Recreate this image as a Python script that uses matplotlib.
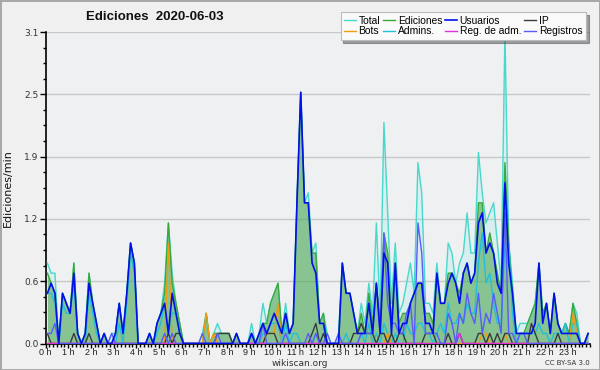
import numpy as np
import matplotlib
matplotlib.use("Agg")
import matplotlib.pyplot as plt
from matplotlib.ticker import FixedLocator, MultipleLocator, FuncFormatter

# values are counts per 10-minute bin (shown as edits/min = count / 10)
total = [8,7,7,0,5,4, 3,8,1,0,1,7, 4,2,0,1,0,1, 1,4,1,5,10,8, 0,0,0,1,0,2, 3,6,12,7,4,2,
         0,0,0,0,0,1, 3,0,1,2,1,1, 1,0,1,0,0,0, 2,0,1,4,2,4, 5,6,1,4,1,2, 14,25,14,15,9,10,
         2,3,1,0,0,1, 8,5,5,3,1,4, 2,6,3,12,3,22, 13,4,10,3,4,6, 8,5,18,15,4,4, 3,8,4,4,10,9,
         6,8,9,13,9,9, 19,15,12,13,14,10, 6,31,10,6,1,2, 2,2,3,4,8,3, 4,1,5,2,1,2, 1,4,3,0,0,1]
ediciones = [7,6,5,0,5,4, 3,8,1,0,1,7, 4,2,0,1,0,0, 1,4,1,5,10,8, 0,0,0,1,0,2, 3,5,12,6,4,2,
             0,0,0,0,0,0, 3,0,1,1,1,1, 1,0,1,0,0,0, 1,0,1,2,2,4, 5,6,1,3,1,2, 14,25,14,14,9,9,
             2,3,0,0,0,0, 8,5,5,3,1,3, 1,5,2,6,2,11, 9,2,8,2,3,3, 4,5,6,6,3,3, 2,7,4,4,7,7,
             6,5,7,8,6,7, 14,14,9,11,9,7, 5,18,10,5,1,1, 1,2,3,4,8,3, 4,1,5,2,1,2, 1,4,2,0,0,1]
usuarios = [5,6,5,0,5,4, 3,7,1,0,1,6, 4,2,0,1,0,0, 1,4,1,5,10,8, 0,0,0,1,0,2, 3,4,1,5,3,1,
            0,0,0,0,0,0, 0,0,0,0,0,0, 0,0,1,0,0,0, 1,0,1,2,1,2, 3,2,1,3,1,2, 14,25,14,14,8,7,
            2,2,0,0,0,0, 8,5,5,3,1,1, 1,4,1,6,1,9, 8,1,8,1,2,2, 4,5,6,6,2,2, 1,7,4,4,6,7,
            6,4,7,8,6,7, 12,13,9,10,9,6, 5,16,8,5,1,1, 1,1,1,2,8,2, 4,1,5,2,1,1, 1,1,1,0,0,1]
ip = [1,0,0,0,0,0, 0,1,0,0,0,1, 0,0,0,0,0,0, 0,0,0,0,0,0, 0,0,0,0,0,0, 0,0,1,0,1,1,
      0,0,0,0,0,0, 0,0,0,1,1,1, 1,0,0,0,0,0, 0,0,0,0,1,1, 1,0,0,0,0,0, 0,0,0,0,1,2,
      0,1,0,0,0,0, 0,0,0,1,1,2, 1,1,1,0,1,1, 0,1,0,1,1,0, 0,0,0,0,1,1, 1,0,0,0,1,0,
      0,1,0,0,0,0, 1,1,0,1,0,1, 0,1,1,0,0,0, 0,0,2,1,0,0, 0,0,0,1,0,0, 0,0,0,0,0,0]
bots = [0,0,0,0,0,0, 0,0,0,0,0,0, 0,0,0,0,0,0, 0,0,0,0,0,0, 0,0,0,0,0,0, 0,0,10,0,0,0,
        0,0,0,0,0,0, 3,0,1,0,0,0, 0,0,0,0,0,0, 0,0,0,0,1,1, 1,4,0,0,0,0, 0,0,0,0,0,0,
        0,0,0,0,0,0, 0,0,0,0,0,0, 0,0,0,0,0,0, 1,0,0,0,0,0, 0,0,0,0,0,0, 0,0,0,0,0,0,
        0,0,0,0,0,0, 0,1,1,0,0,0, 0,1,0,0,0,0, 0,0,0,0,0,0, 0,0,0,0,0,0, 0,3,1,0,0,0]
admins = [5,5,4,0,4,3, 3,6,1,0,0,5, 3,1,0,0,0,0, 0,2,0,4,9,7, 0,0,0,0,0,1, 2,4,1,3,3,1,
          0,0,0,0,0,0, 0,0,0,0,0,0, 0,0,0,0,0,0, 0,0,0,1,1,2, 2,2,0,2,0,1, 1,0,0,0,0,1,
          0,1,0,0,0,0, 0,1,0,0,0,1, 0,2,0,1,0,2, 1,0,1,0,0,2, 1,1,2,2,1,1, 0,1,2,1,4,2,
          2,3,2,4,3,3, 8,11,6,7,4,2, 2,10,10,3,0,1, 1,1,1,1,2,1, 1,0,1,1,1,2, 0,2,2,0,0,0]
reg_adm = [0]*109 + [1] + [0]*34
registros = [1,1,2,0,0,0, 0,0,0,0,0,0, 0,0,0,0,0,1, 0,0,0,0,0,0, 0,0,0,0,0,0, 0,1,0,1,0,0,
             0,0,0,0,0,1, 0,0,0,1,0,0, 0,0,0,0,0,0, 1,0,0,2,0,0, 0,0,0,1,0,0, 0,0,0,1,0,1,
             0,0,1,0,0,1, 0,0,0,0,0,1, 1,1,1,6,1,11, 4,2,2,1,1,3, 4,0,12,9,1,1, 1,1,0,0,3,2,
             0,3,2,5,3,2, 5,1,3,2,5,3, 1,13,1,1,0,1, 1,0,0,0,0,0, 0,0,0,0,0,0, 0,0,0,0,0,0]
hour_labels = [f"{h} h" for h in range(24)]

n = len(total)
t = (np.arange(n) + 0.5) / 6.0
def per_min(a):
    return np.asarray(a, dtype=float) / 10.0

fig = plt.figure(figsize=(6.0, 3.7), dpi=100)
fig.patch.set_facecolor('#f0f0f0')
fig.patch.set_edgecolor('#a8a8a8')
fig.patch.set_linewidth(2)
ax = fig.add_axes([45.5/600, 1-343.5/370, (590-45.5)/600, (343.5-32)/370])
ax.set_facecolor('#eef0f2')

c_total = '#48d8cc'
c_ed = '#3aa83a'
c_us = '#0010e8'
c_ip = '#3a3a3a'
c_bots = '#f09a10'
c_adm = '#20c0dc'
c_ra = '#e030e0'
c_reg = '#5a5aff'

ax.fill_between(t, 0, per_min(total), color='#7fe8e0', alpha=0.18, lw=0, zorder=1)
ax.fill_between(t, 0, per_min(ediciones), color='#3c9f3c', alpha=0.52, lw=0, zorder=2)
l_total, = ax.plot(t, per_min(total), color=c_total, lw=1.0, zorder=3)
l_ed, = ax.plot(t, per_min(ediciones), color=c_ed, lw=1.0, zorder=4)
l_adm, = ax.plot(t, per_min(admins), color=c_adm, lw=1.0, zorder=5)
l_bots, = ax.plot(t, per_min(bots), color=c_bots, lw=1.0, zorder=6)
l_ip, = ax.plot(t, per_min(ip), color=c_ip, lw=1.0, zorder=6)
l_ra, = ax.plot(t, per_min(reg_adm), color=c_ra, lw=1.0, zorder=6)
l_reg, = ax.plot(t, per_min(registros), color=c_reg, lw=1.0, zorder=7)
l_us, = ax.plot(t, per_min(usuarios), color=c_us, lw=1.2, zorder=8)

ymax = 3.1
ax.set_xlim(0, 24)
ax.set_ylim(0, ymax)
ax.yaxis.set_major_locator(FixedLocator([ymax*k/5 for k in range(6)]))
ax.yaxis.set_minor_locator(FixedLocator([ymax*k/20 for k in range(21)]))
ax.yaxis.set_major_formatter(FuncFormatter(lambda v, p: f"{v:.1f}"))
ax.xaxis.set_major_locator(FixedLocator(list(range(24))))
ax.xaxis.set_minor_locator(MultipleLocator(1/6))
ax.set_xticklabels(hour_labels)
ax.grid(axis='y', which='major', color='#c8c8c8', lw=1.0, zorder=0)
ax.set_axisbelow(True)
for s in ['top', 'right']:
    ax.spines[s].set_visible(False)
for s in ['left', 'bottom']:
    ax.spines[s].set_color('black')
    ax.spines[s].set_linewidth(1.2)
ax.tick_params(axis='y', which='major', direction='out', length=4, width=1,
               labelsize=6.5, labelcolor='#333333', pad=1)
ax.tick_params(axis='x', which='major', direction='out', length=3, width=1,
               labelsize=6, labelcolor='#222222', pad=0)
ax.tick_params(axis='both', which='minor', direction='out', length=2.5, width=1)
for lab in ax.get_xticklabels():
    lab.set_fontfamily('Liberation Sans')
    lab.set_fontsize(6.5)
ax.set_ylabel('Ediciones/min', fontsize=8, color='#111111', labelpad=8)

fig.text(155/600, 1-17/370, 'Ediciones  2020-06-03', fontsize=9.5, fontweight='bold',
         family='Liberation Sans', ha='center', va='center', color='#111111')
fig.text(300/600, 1-363/370, 'wikiscan.org', fontsize=6.5, ha='center', va='center', color='#333333')
fig.text(590/600, 1-363/370, 'CC BY-SA 3.0', fontsize=5, ha='right', va='center', color='#333333')

handles = [l_total, l_bots, l_ed, l_adm, l_us, l_ra, l_ip, l_reg]
labels = ['Total', 'Bots', 'Ediciones', 'Admins.', 'Usuarios', 'Reg. de adm.', 'IP', 'Registros']
leg = fig.legend(handles, labels, ncol=4, loc='upper right', bbox_to_anchor=(591/600, 1-7/370),
                 prop={'family': 'Liberation Sans', 'size': 7.4}, frameon=True, fancybox=False,
                 shadow=True, handlelength=1.1, handletextpad=0.3, columnspacing=0.3,
                 labelspacing=0.05, borderpad=0.35)
leg.get_frame().set_facecolor('#fafafa')
leg.get_frame().set_edgecolor('#bbbbbb')
leg.get_frame().set_linewidth(0.8)
leg.set_zorder(20)

fig.savefig('out.png', dpi=100, facecolor=fig.get_facecolor(), edgecolor=fig.get_edgecolor())
